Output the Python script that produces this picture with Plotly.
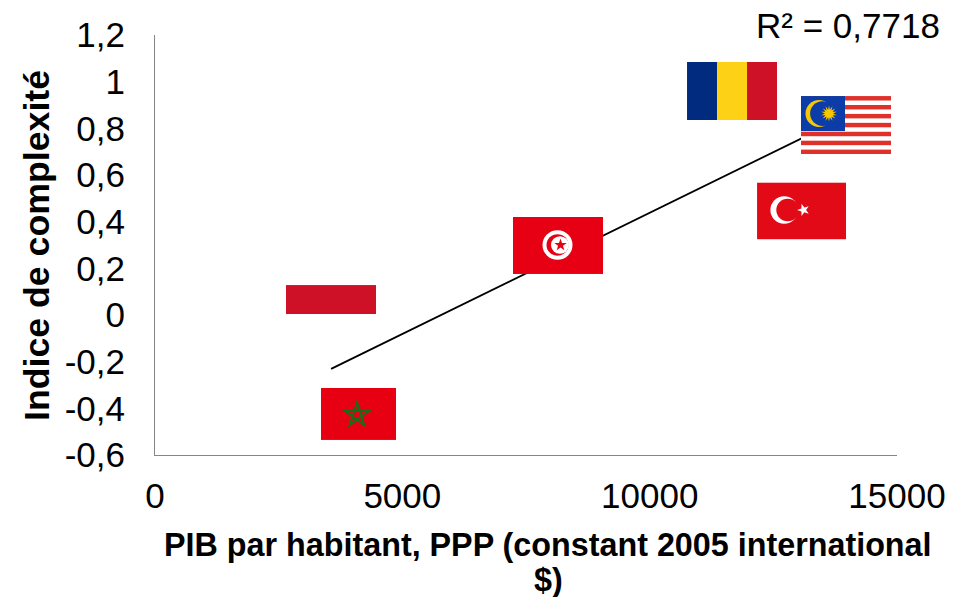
import base64
import math
import plotly.graph_objects as go

# Data
countries = ["Indonesia", "Morocco", "Tunisia", "Turkey", "Romania", "Malaysia"]
gdp_per_capita = [3558, 4114, 8147, 13070, 11665, 13969]
complexity = [0.004, -0.424, 0.298, 0.446, 0.96, 0.814]
trend_x = [3560, 13969]
trend_y = [-0.231, 0.85]
x_ticks = [0, 5000, 10000, 15000]
x_labels = ["0", "5000", "10000", "15000"]
y_ticks = [-0.6, -0.4, -0.2, 0, 0.2, 0.4, 0.6, 0.8, 1, 1.2]
y_labels = ["-0,6", "-0,4", "-0,2", "0", "0,2", "0,4", "0,6", "0,8", "1", "1,2"]
r2_text = "R² = 0,7718"
x_title_lines = ["PIB par habitant, PPP (constant 2005 international", "$)"]
y_title = "Indice de complexité"


def star(cx, cy, R, r, n=5, rot=-90):
    pts = []
    for i in range(2 * n):
        rad = R if i % 2 == 0 else r
        a = math.radians(rot + i * 180 / n)
        pts.append(f"{cx + rad * math.cos(a):.2f},{cy + rad * math.sin(a):.2f}")
    return " ".join(pts)


def pentagram(cx, cy, R):
    pts = []
    for i in range(5):
        a = math.radians(-90 + i * 144)
        pts.append(f"{cx + R * math.cos(a):.2f},{cy + R * math.sin(a):.2f}")
    return " ".join(pts)


def svg(w, h, body):
    s = (f'<svg xmlns="http://www.w3.org/2000/svg" width="{w*4}" height="{h*4}" '
         f'viewBox="0 0 {w} {h}" preserveAspectRatio="none">{body}</svg>')
    return "data:image/svg+xml;base64," + base64.b64encode(s.encode()).decode()


def romania():
    return svg(90, 58, '<rect width="30" height="58" fill="#002B7F"/>'
                       '<rect x="30" width="30" height="58" fill="#FCD116"/>'
                       '<rect x="60" width="30" height="58" fill="#CE1126"/>')


def indonesia():
    return svg(90, 58, '<rect width="90" height="29" fill="#CE1126"/>'
                       '<rect y="29" width="90" height="29" fill="#FFFFFF"/>')


def turkey():
    return svg(90, 58, '<rect width="90" height="58" fill="#E30A17"/>'
                       '<circle cx="27.5" cy="28" r="14" fill="#fff"/>'
                       '<circle cx="31" cy="28" r="11.5" fill="#E30A17"/>'
                       f'<polygon points="{star(47, 28, 6.5, 2.6, rot=180)}" fill="#fff"/>')


def tunisia():
    return svg(90, 58, '<rect width="90" height="58" fill="#E70013"/>'
                       '<circle cx="44.5" cy="28.5" r="15" fill="#fff"/>'
                       '<circle cx="44.5" cy="28.5" r="11" fill="#E70013"/>'
                       '<circle cx="47" cy="28.5" r="9" fill="#fff"/>'
                       f'<polygon points="{star(47.5, 28.5, 6.5, 2.6)}" fill="#E70013"/>')


def morocco():
    return svg(75, 52, '<rect width="75" height="52" fill="#E60012"/>'
                       f'<polygon points="{pentagram(36, 27, 12.5)}" fill="none" '
                       'stroke="#13701A" stroke-width="2" stroke-linejoin="miter"/>')


def malaysia():
    body = '<rect width="90" height="58" fill="#fff"/>'
    h = 58 / 13
    for i in range(0, 13, 2):
        body += f'<rect y="{i*h:.2f}" width="90" height="{h:.2f}" fill="#E0302A"/>'
    body += '<rect width="44" height="35" fill="#0B3CA8"/>'
    body += '<circle cx="18" cy="17.5" r="13.5" fill="#F7C800"/>'
    body += '<circle cx="21.5" cy="17.5" r="12.4" fill="#0B3CA8"/>'
    body += f'<polygon points="{star(28, 17.5, 8, 4, n=14)}" fill="#F7C800"/>'
    return svg(90, 58, body)


flag_sources = {"Indonesia": indonesia, "Morocco": morocco, "Tunisia": tunisia,
                "Turkey": turkey, "Romania": romania, "Malaysia": malaysia}
flag_px = {"Indonesia": (90, 58), "Morocco": (75, 52), "Tunisia": (90, 57),
           "Turkey": (89, 57), "Romania": (90, 58), "Malaysia": (90, 58)}

L, R, T, B = 155, 70, 35, 142
W, H = 967, 597
PW, PH = W - L - R, H - T - B
px_x = 15000 / PW
px_y = 1.8 / PH


def paper_x(page_px):
    return (page_px - L) / PW


def paper_y(page_px):
    return 1 - (page_px - T) / PH


fig = go.Figure()
fig.add_trace(go.Scatter(x=trend_x, y=trend_y, mode="lines",
                         line=dict(color="black", width=1.8), hoverinfo="skip"))
# Invisible points keep the six country values as real data; the flags sit on them.
fig.add_trace(go.Scatter(x=gdp_per_capita, y=complexity, text=countries, mode="markers",
                         marker=dict(size=1, opacity=0)))

images = []
for name, gx, cy in zip(countries, gdp_per_capita, complexity):
    w, h = flag_px[name]
    images.append(dict(source=flag_sources[name](), xref="x", yref="y", x=gx, y=cy,
                       sizex=w * px_x, sizey=h * px_y, xanchor="center", yanchor="middle",
                       sizing="stretch", layer="above"))

axis_line = "#868686"
family = "Liberation Sans, Arial, sans-serif"
tick_font = dict(family=family, size=35, color="black")
x_title_font = dict(family=family, size=32.3, color="black")
y_title_font = dict(family=family, size=35.7, color="black")

annotations = [
    dict(text=r2_text, xref="paper", yref="paper", x=paper_x(942), y=paper_y(25),
         xanchor="right", yanchor="middle", showarrow=False,
         font=dict(family=family, size=35, color="black")),
    dict(text=f"<b>{x_title_lines[0]}</b>", xref="paper", yref="paper",
         x=paper_x(548), y=paper_y(545), xanchor="center", yanchor="middle",
         showarrow=False, font=x_title_font),
    dict(text=f"<b>{x_title_lines[1]}</b>", xref="paper", yref="paper",
         x=paper_x(548), y=paper_y(580), xanchor="center", yanchor="middle",
         showarrow=False, font=x_title_font),
    dict(text=f"<b>{y_title}</b>", xref="paper", yref="paper",
         x=paper_x(37), y=paper_y(246), xanchor="center", yanchor="middle",
         textangle=-90, showarrow=False, font=y_title_font),
]

fig.update_layout(
    width=W, height=H, margin=dict(l=L, r=R, t=T, b=B, pad=0, autoexpand=False),
    paper_bgcolor="white", plot_bgcolor="white", showlegend=False, images=images,
    annotations=annotations,
    xaxis=dict(range=[0, 15000], tickvals=x_ticks, ticktext=x_labels, showgrid=False,
               zeroline=False, showline=True, linecolor=axis_line, linewidth=1,
               ticks="", tickfont=tick_font, ticklabelstandoff=10, automargin=False),
    yaxis=dict(range=[-0.6, 1.2], tickvals=y_ticks, ticktext=y_labels, showgrid=False,
               zeroline=False, showline=True, linecolor=axis_line, linewidth=1,
               ticks="", tickfont=tick_font, ticklabelstandoff=22, automargin=False),
)

# Remove the browser's default 8 px page margin so the figure fills the window exactly.
fig.write_html("out.html", config={"displayModeBar": False},
               post_script="document.body.style.margin='0';")
